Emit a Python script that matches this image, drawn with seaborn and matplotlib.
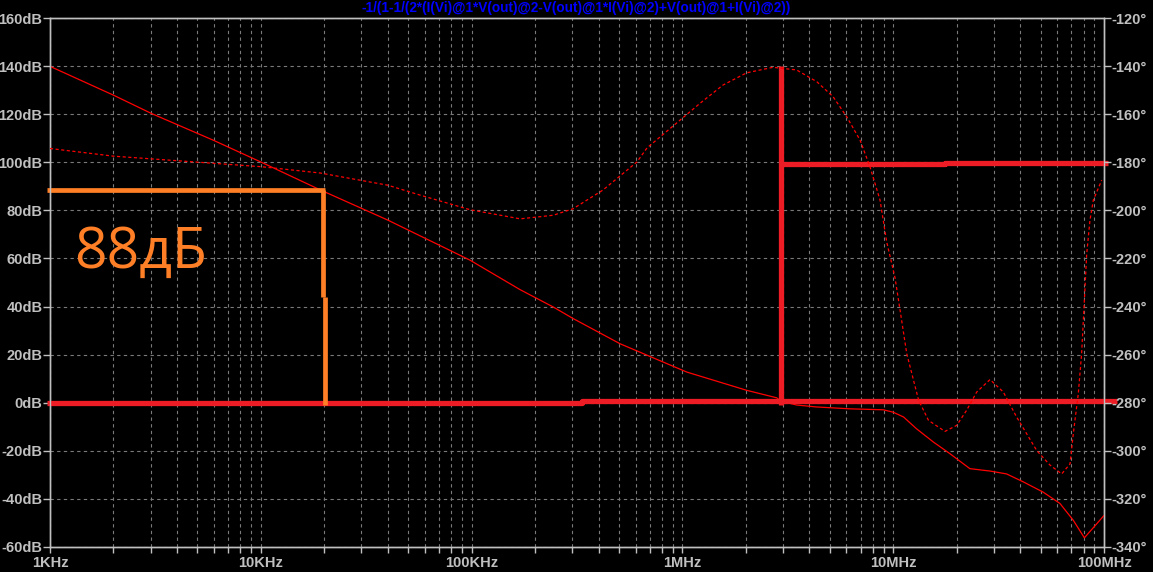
import numpy as np
import pandas as pd
import seaborn as sns
import matplotlib
matplotlib.use("Agg")
from matplotlib import pyplot as plt
from matplotlib.ticker import FixedLocator, NullFormatter

# magnitude curve (Hz, dB)
mag_freq = [1e3, 2e3, 3.04e3, 5.93e3, 10.1e3, 19.1e3, 40e3, 98.3e3, 170e3, 244e3, 303e3,
            506e3, 1.05e6, 2.02e6, 2.8e6, 2.94e6, 3.48e6, 4.3e6, 6.24e6, 8.98e6, 10e6,
            11.2e6, 12.9e6, 15.5e6, 18.6e6, 23.1e6, 28.8e6, 34.5e6, 41.4e6, 51.5e6,
            61.8e6, 71.5e6, 80.7e6, 92.3e6, 100e6]
mag_db = [140, 128, 120.3, 109.3, 100, 88.6, 76, 59.3, 47, 39.8, 35,
          24.5, 12.7, 5.1, 2, 0.6, -1, -1.8, -2.6, -3, -4,
          -6, -10.9, -16.4, -21.3, -27.5, -28.5, -29.7, -33, -37.3,
          -42, -49, -56.3, -50.5, -47]

# phase curve (Hz, degrees)
ph_freq = [1e3, 2e3, 10.1e3, 19.1e3, 40.1e3, 56.9e3, 98.3e3, 170e3, 244e3, 303e3, 420e3,
           609e3, 679e3, 1.212e6, 1.558e6, 2.018e6, 2.69e6, 3.48e6, 4.34e6, 5.18e6,
           6.02e6, 6.96e6, 7.76e6, 8.66e6, 9.31e6, 10.2e6, 10.8e6, 11.6e6, 13.2e6, 14.7e6,
           17.6e6, 20.0e6, 22.3e6, 24.9e6, 28.8e6, 33.3e6, 38.5e6, 48.0e6, 55.4e6,
           63.0e6, 69.0e6, 71.5e6, 75.5e6, 78.3e6, 80.7e6, 82.8e6, 85.8e6, 89e6, 97.5e6]
ph_deg = [-174.2, -177.4, -181.8, -184.4, -189.5, -193.6, -199.7, -203.5, -202, -199.3, -191.5,
          -179.8, -174, -155.4, -147.8, -142.7, -140.4, -141.5, -146.4, -152.6,
          -161, -170.7, -181.8, -195.7, -213, -228, -242, -259.7, -279, -287.4,
          -292, -289.5, -283.2, -275.6, -270.4, -275.6, -286, -300, -306,
          -309.7, -305.5, -293, -276.4, -259.7, -237.4, -218, -204, -195.7, -187.4]

# hand drawn marks (Hz, dB)
zero_line_f = [0.97e3, 334e3, 334e3, 115e6]
zero_line_db = [0.0, 0.0, 0.7, 0.7]
unity_f = 2.94e6
unity_db = [140, -1]
pm_line_f = [2.94e6, 17.6e6, 17.6e6, 105e6]
pm_line_db = [99.2, 99.2, 99.6, 99.6]
gain_line_f = [0.97e3, 20.1e3]
gain_db = 88.7
gain_drop_f = [19.8e3, 20.1e3]
gain_drop_db = [[88.7, 44], [44, -1]]

title = "-1/(1-1/(2*(I(Vi)@1*V(out)@2-V(out)@1*I(Vi)@2)+V(out)@1+I(Vi)@2))"
db_ticks = list(range(-60, 161, 20))
deg_ticks = list(range(-340, -119, 20))
x_ticks = [1e3, 1e4, 1e5, 1e6, 1e7, 1e8]
x_labels = ["1KHz", "10KHz", "100KHz", "1MHz", "10MHz", "100MHz"]

sns.set_style("dark", {"axes.facecolor": "black", "figure.facecolor": "black",
                       "axes.edgecolor": "#c0c0c0"})
plt.rcParams['font.family'] = ['Liberation Sans', 'DejaVu Sans']

W, H = 1153, 572
fig = plt.figure(figsize=(W / 100, H / 100), dpi=100)
ax = fig.add_axes([50 / W, 1 - 546.7 / H, 1054 / W, 528.4 / H])
ax2 = ax.twinx()

red = "#ff0000"
mag = pd.DataFrame({"f": mag_freq, "db": mag_db})
ph = pd.DataFrame({"f": ph_freq, "deg": ph_deg})
sns.lineplot(data=mag, x="f", y="db", ax=ax, color=red, lw=0.9, zorder=3)
sns.lineplot(data=ph, x="f", y="deg", ax=ax2, color=red, lw=0.9,
             dashes=False, zorder=3)
ax2.lines[0].set_linestyle((0, (2.5, 2)))

ax.set_xscale("log")
ax.set_xlim(1e3, 1e8)
ax.set_ylim(-60, 160)
ax2.set_ylim(-340, -120)

grey = "#c0c0c0"
for a in (ax, ax2):
    a.set_xlabel("")
    a.set_ylabel("")
    for s in a.spines.values():
        s.set_color(grey)
        s.set_linewidth(1)
    a.grid(False)

ax.xaxis.set_major_locator(FixedLocator(x_ticks))
ax.set_xticklabels(x_labels)
minor = [m * d for d in x_ticks[:-1] for m in range(2, 10)]
ax.xaxis.set_minor_locator(FixedLocator(minor))
ax.xaxis.set_minor_formatter(NullFormatter())
ax.set_yticks(db_ticks)
ax.set_yticklabels([f"{v}dB" for v in db_ticks])
ax2.set_yticks(deg_ticks)
ax2.set_yticklabels([f"{v}°" for v in deg_ticks])

ax.tick_params(axis="x", which="both", direction="out", length=4, width=1,
               color=grey, labelcolor=grey, labelsize=10.5, pad=3, bottom=True)
ax.tick_params(axis="y", direction="out", length=5, width=1, color=grey,
               labelcolor=grey, labelsize=10.5, pad=0.5, left=True)
ax2.tick_params(axis="y", direction="out", length=5, width=1, color=grey,
                labelcolor=grey, labelsize=10.5, pad=0.5, right=True)
for lab in ax.get_xticklabels() + ax.get_yticklabels() + ax2.get_yticklabels():
    lab.set_fontweight("bold")

gridkw = dict(color="#7a7a7a", lw=0.8, ls=(0, (3, 3)))
ax.grid(True, which="both", axis="x", **gridkw)
ax.grid(True, which="major", axis="y", **gridkw)
ax.set_axisbelow(True)

# annotations
paint_red = "#ee1c24"
orange = "#ff7f27"
ax.plot(zero_line_f, zero_line_db, color=paint_red, lw=3.8, clip_on=False,
        solid_capstyle="butt", zorder=5)
ax.plot([unity_f, unity_f], unity_db, color=paint_red, lw=3.8, clip_on=False,
        solid_capstyle="butt", zorder=5)
ax.plot(pm_line_f, pm_line_db, color=paint_red, lw=3.8, clip_on=False,
        solid_capstyle="butt", zorder=5)
ax.plot(gain_line_f, [gain_db, gain_db], color=orange, lw=3.4, clip_on=False,
        solid_capstyle="butt", zorder=5)
for fx, yy in zip(gain_drop_f, gain_drop_db):
    ax.plot([fx, fx], yy, color=orange, lw=3.4, clip_on=False,
            solid_capstyle="butt", zorder=5)
ax.text(1.3e3, 56, "88дБ", fontsize=41, color=orange, family=["Open Sans", "DejaVu Sans"],
        ha="left", va="baseline", zorder=6)

fig.text(0.5, 1 - 8 / H, title, color="#0000ff", fontsize=9.8, fontweight="bold",
         ha="center", va="center")

fig.savefig("out.png", dpi=100, facecolor="black")
